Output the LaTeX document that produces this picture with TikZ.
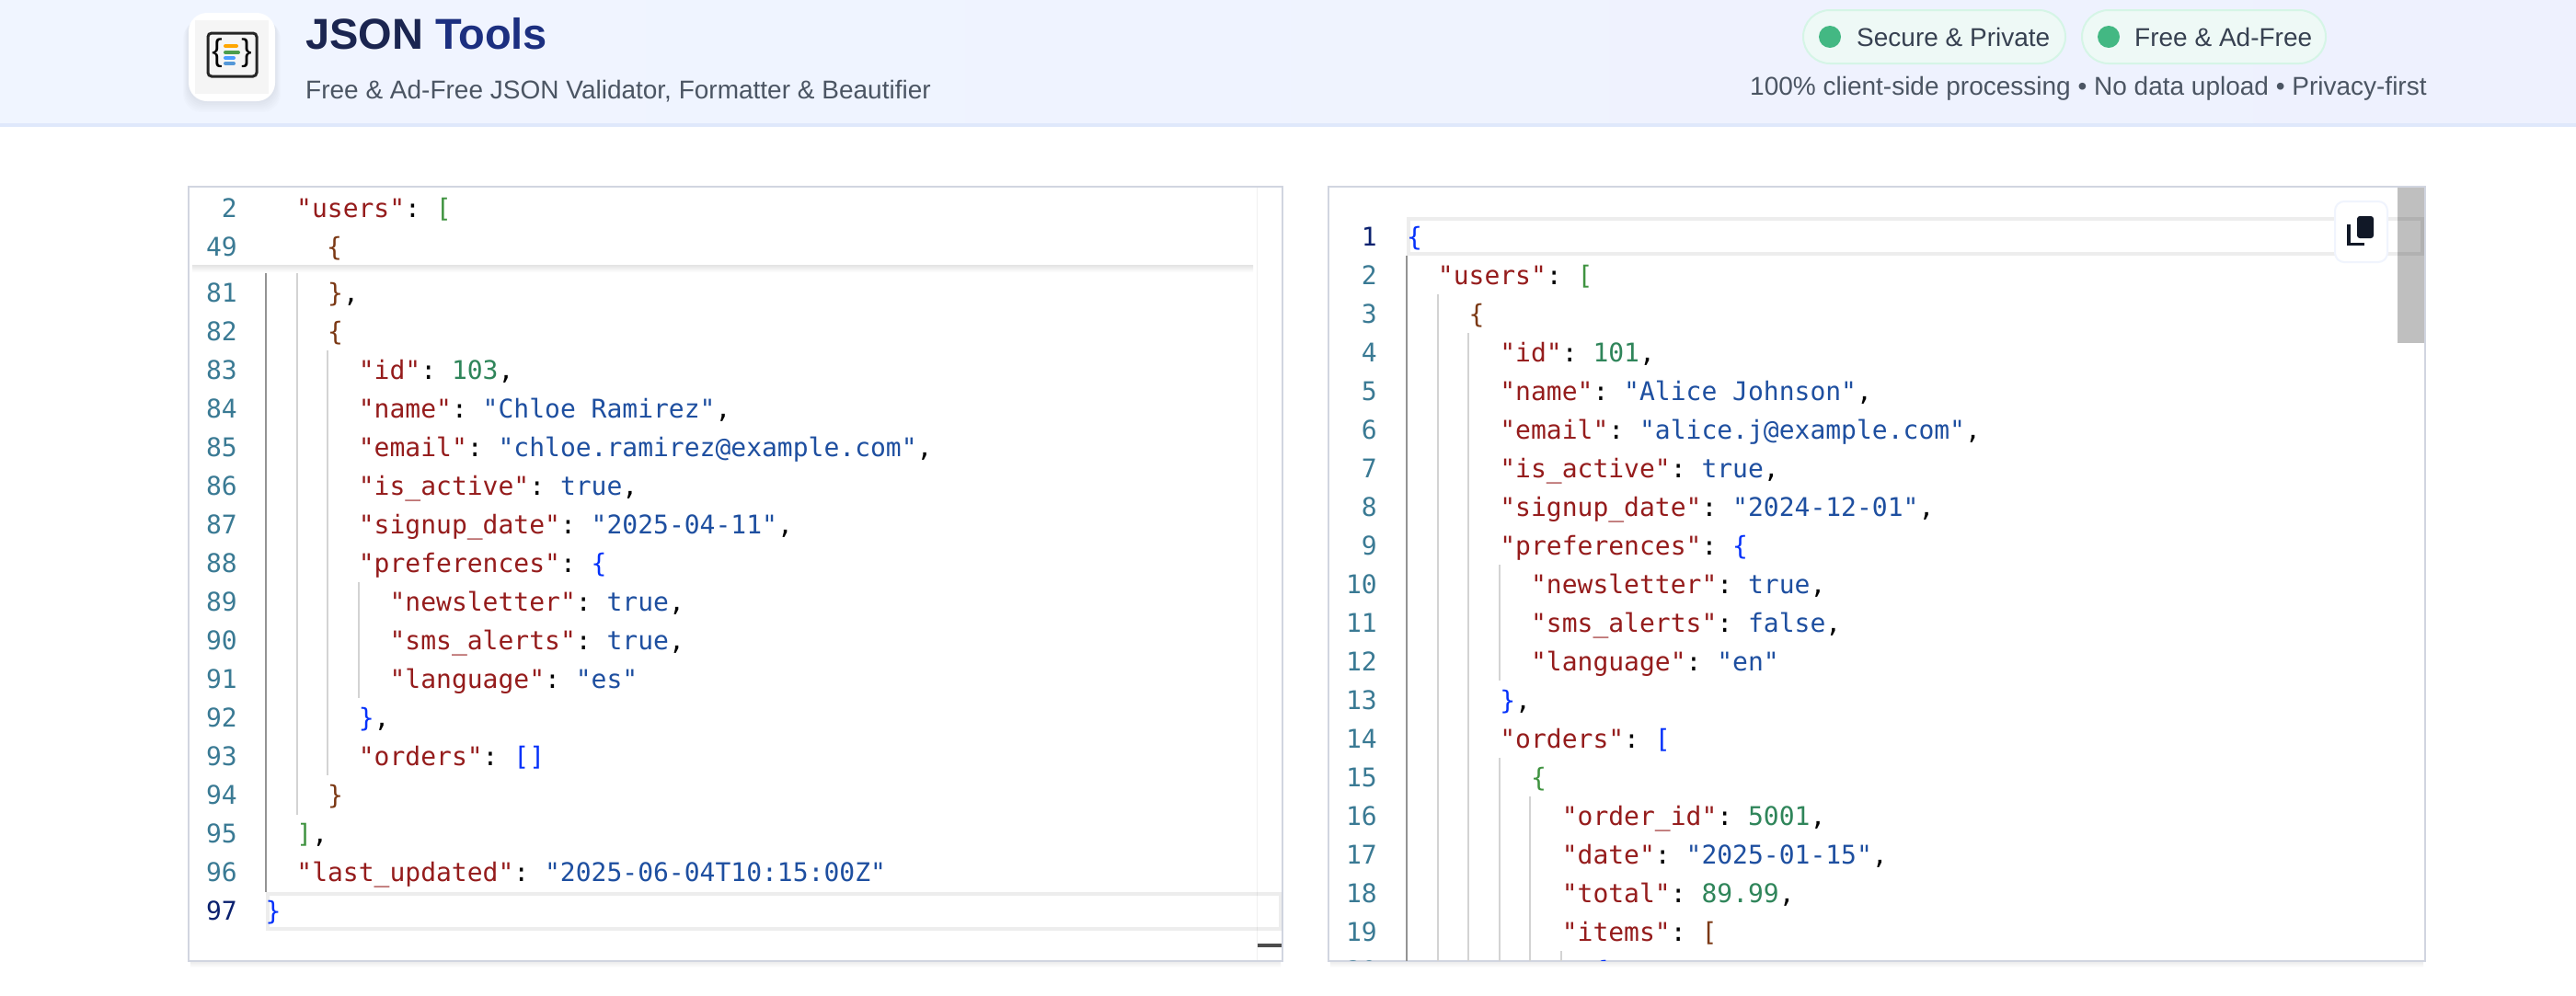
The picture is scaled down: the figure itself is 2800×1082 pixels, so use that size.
\documentclass[tikz,border=0pt]{standalone}
\usepackage{fontspec}
\setmainfont{Liberation Sans}
\setmonofont{DejaVu Sans Mono}
\usetikzlibrary{calc}
\definecolor{keyred}{HTML}{951C1C}
\definecolor{strblue}{HTML}{1E4FA0}
\definecolor{numgreen}{HTML}{2F855A}
\definecolor{brblue}{HTML}{0431FA}
\definecolor{brgreen}{HTML}{3F9340}
\definecolor{brbrown}{HTML}{7B3814}
\definecolor{linenum}{HTML}{3A7A94}
\definecolor{linenumact}{HTML}{0B216F}
\definecolor{guidecol}{HTML}{D3D3D3}
\definecolor{guidedark}{HTML}{939393}
\definecolor{panelline}{HTML}{D1D5E0}
\definecolor{subgray}{HTML}{4B5563}
\definecolor{pilltext}{HTML}{374151}
\definecolor{dotgreen}{HTML}{43B883}
\definecolor{headleft}{HTML}{F0F5FF}
\definecolor{headright}{HTML}{EEF1FE}
\definecolor{headline}{HTML}{DFE8FB}
\definecolor{pillfill}{HTML}{EEF9F6}
\definecolor{pillline}{HTML}{D5F5E6}
\definecolor{titledark}{HTML}{1B2550}
\definecolor{titleblue}{HTML}{1C2F80}
\definecolor{iconnavy}{HTML}{111827}
\definecolor{btnline}{HTML}{F0F4FD}
\newcommand{\jkey}[1]{\textcolor{keyred}{#1}}
\newcommand{\jstr}[1]{\textcolor{strblue}{#1}}
\newcommand{\jnum}[1]{\textcolor{numgreen}{#1}}
\newcommand{\brA}[1]{\textcolor{brblue}{#1}}
\newcommand{\brB}[1]{\textcolor{brgreen}{#1}}
\newcommand{\brC}[1]{\textcolor{brbrown}{#1}}
\tikzset{
	codetext/.style={anchor=base west,inner sep=0pt,font=\fontsize{28}{34}\selectfont\ttfamily},
	numtext/.style={anchor=base east,inner sep=0pt,text=linenum,font=\fontsize{28}{34}\selectfont\ttfamily},
	headtext/.style={anchor=base west,inner sep=0pt,font=\fontsize{28}{34}\selectfont},
	pill/.style={draw=pillline,fill=pillfill,line width=2pt,rounded corners=29pt},
	guide/.style={draw=guidecol,line width=1.2pt},
	panel/.style={draw=panelline,line width=2pt,fill=white},
	curline/.style={draw=black,draw opacity=.07,line width=4pt},
	logobar/.style={line width=4pt,line cap=round}
}
\begin{document}
\begin{tikzpicture}[x=1pt,y=-1pt]
	\useasboundingbox (0,0) rectangle (2800,1082);
	\fill[white] (0,0) rectangle (2800,1082);
	\shade[left color=headleft,right color=headright] (0,0) rectangle (2800,134);
	\fill[headline] (0,134) rectangle (2800,138);

	\foreach \k in {1,...,6}
		\fill[black,opacity=.012,rounded corners=20pt] ({205-\k},{16+\k}) rectangle ({299+\k},{110+2*\k});
	\fill[white,rounded corners=20pt] (205,14) rectangle (299,110);
	\fill[black!4] (212,22) rectangle (292,102);
	\draw[draw=black!85,line width=3pt,rounded corners=4pt] (226,36) rectangle (279,83);
	\draw[logobar,orange!70!yellow] (245,50) -- (257,50);
	\draw[logobar,green!45!black!70] (245,57) -- (259,57);
	\draw[logobar,blue!55!cyan!70] (245,63) -- (254,63);
	\draw[logobar,cyan!60!blue!70] (245,69) -- (254,69);
	\node[inner sep=0pt,font=\fontsize{34}{34}\selectfont] (logo-open) at (236,58) {\{};
	\node[inner sep=0pt,font=\fontsize{34}{34}\selectfont] (logo-close) at (268,58) {\}};

	\node[headtext,font=\fontsize{47}{50}\selectfont\bfseries] (title) at (332,53) {\textcolor{titledark}{JSON} \textcolor{titleblue}{Tools}};
	\node[headtext,text=subgray] (subtitle) at (332,107) {Free \& Ad-Free JSON Validator, Formatter \& Beautifier};

	\draw[pill] (1960,11) rectangle (2245,69);
	\draw[pill] (2263,11) rectangle (2528,69);
	\fill[dotgreen] (1989,40) circle (12);
	\fill[dotgreen] (2292,40) circle (12);
	\node[headtext,text=pilltext] (secure) at (2018,50) {Secure \& Private};
	\node[headtext,text=pilltext] (free) at (2320,50) {Free \& Ad-Free};
	\node[headtext,text=subgray] (privacy) at (1902,103) {100\% client-side processing • No data upload • Privacy-first};

	\shade[top color=black!8,bottom color=white] (207,1045) rectangle (1392,1052);
	\shade[top color=black!8,bottom color=white] (1446,1045) rectangle (2634,1052);
	\draw[panel] (205,203) rectangle (1394,1045);
	\draw[panel] (1444,203) rectangle (2636,1045);

	\begin{scope}
		\clip (206,204) rectangle (1393,1044);
		\draw[draw=black!6,line width=1pt] (1366,204) -- (1366,1044);
		\fill[black!70] (1367,1026) rectangle (1393,1030);
		\draw[guidedark,line width=1.2pt] (289,288) -- (289,970);
		\draw[guide] (323,288) -- (323,886);
		\draw[guide] (356,288) -- (356,297);
		\draw[guide] (356,381) -- (356,843);
		\draw[guide] (390,633) -- (390,759);
		\draw[curline] (291,972) rectangle (1392,1010);
		\foreach \n in {81,...,96}
			\node[numtext] (left-num-\n) at (258,{328+42*(\n-81)}) {\n};
		\node[numtext,text=linenumact] (left-num-97) at (258,1000) {97};
		\foreach \n/\ind/\txt in {
			80/6/{\brA{]}},
			81/4/{\brC{\}},},
			82/4/{\brC{\{}},
			83/6/{\jkey{"id"}: \jnum{103},},
			84/6/{\jkey{"name"}: \jstr{"Chloe Ramirez"},},
			85/6/{\jkey{"email"}: \jstr{"chloe.ramirez@example.com"},},
			86/6/{\jkey{"is\_active"}: \jstr{true},},
			87/6/{\jkey{"signup\_date"}: \jstr{"2025-04-11"},},
			88/6/{\jkey{"preferences"}: \brA{\{}},
			89/8/{\jkey{"newsletter"}: \jstr{true},},
			90/8/{\jkey{"sms\_alerts"}: \jstr{true},},
			91/8/{\jkey{"language"}: \jstr{"es"}},
			92/6/{\brA{\}},},
			93/6/{\jkey{"orders"}: \brA{[]}},
			94/4/{\brC{\}}},
			95/2/{\brB{]},},
			96/2/{\jkey{"last\_updated"}: \jstr{"2025-06-04T10:15:00Z"}},
			97/0/{\brA{\}}}
		}
			\node[codetext] (left-code-\n) at ({288.5+\ind*16.86},{328+42*(\n-81)}) {\txt};
		\shade[top color=black!11,bottom color=white] (209,288) rectangle (1362,296);
		\fill[white] (206,204) rectangle (1362,288);
		\node[numtext] (sticky-num-2) at (258,236) {2};
		\node[numtext] (sticky-num-49) at (258,278) {49};
		\node[codetext] (sticky-users) at (322,236) {\jkey{"users"}: \brB{[}};
		\node[codetext] (sticky-open) at (355,278) {\brC{\{}};
	\end{scope}

	\begin{scope}
		\clip (1445,204) rectangle (2635,1044);
		\fill[black!25] (2606,204) rectangle (2635,373);
		\draw[guidedark,line width=1.2pt] (1529,278) -- (1529,1045);
		\draw[guide] (1563,320) -- (1563,1045);
		\draw[guide] (1596,362) -- (1596,1045);
		\draw[guide] (1630,614) -- (1630,740);
		\draw[guide] (1630,824) -- (1630,1045);
		\draw[guide] (1663,866) -- (1663,1045);
		\draw[guide] (1697,1034) -- (1697,1045);
		\draw[curline] (1531,238) rectangle (2633,276);
		\node[numtext,text=linenumact] (right-num-1) at (1497,267) {1};
		\foreach \n in {2,...,20}
			\node[numtext] (right-num-\n) at (1497,{267+42*(\n-1)}) {\n};
		\foreach \n/\ind/\txt in {
			1/0/{\brA{\{}},
			2/2/{\jkey{"users"}: \brB{[}},
			3/4/{\brC{\{}},
			4/6/{\jkey{"id"}: \jnum{101},},
			5/6/{\jkey{"name"}: \jstr{"Alice Johnson"},},
			6/6/{\jkey{"email"}: \jstr{"alice.j@example.com"},},
			7/6/{\jkey{"is\_active"}: \jstr{true},},
			8/6/{\jkey{"signup\_date"}: \jstr{"2024-12-01"},},
			9/6/{\jkey{"preferences"}: \brA{\{}},
			10/8/{\jkey{"newsletter"}: \jstr{true},},
			11/8/{\jkey{"sms\_alerts"}: \jstr{false},},
			12/8/{\jkey{"language"}: \jstr{"en"}},
			13/6/{\brA{\}},},
			14/6/{\jkey{"orders"}: \brA{[}},
			15/8/{\brB{\{}},
			16/10/{\jkey{"order\_id"}: \jnum{5001},},
			17/10/{\jkey{"date"}: \jstr{"2025-01-15"},},
			18/10/{\jkey{"total"}: \jnum{89.99},},
			19/10/{\jkey{"items"}: \brC{[}},
			20/12/{\brA{\{}}
		}
			\node[codetext] (right-code-\n) at ({1529+\ind*16.86},{267+42*(\n-1)}) {\txt};
	\end{scope}

	\draw[draw=btnline,line width=2pt,fill=white,rounded corners=10pt] (2538,219) rectangle (2595,285);
	\fill[iconnavy,rounded corners=3pt] (2562,235) rectangle (2580,259);
	\draw[iconnavy,line width=3.5pt] (2553,244) -- (2553,265.5) -- (2570,265.5);
\end{tikzpicture}
\end{document}
